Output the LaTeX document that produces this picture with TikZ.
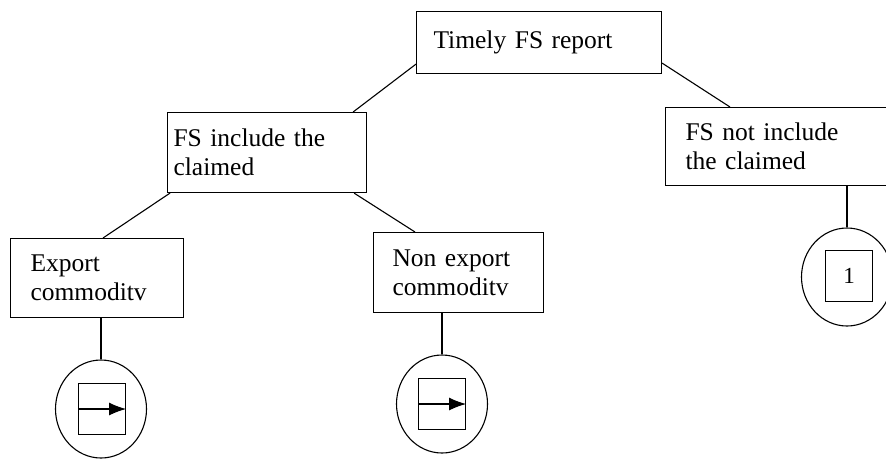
\documentclass[tikz,border=0pt]{standalone}
\usepackage{fontspec}
\setmainfont{Liberation Serif}
\usetikzlibrary{shapes.geometric,arrows.meta}

\begin{document}
\begin{tikzpicture}[x=1pt,y=-1pt,line width=1.1pt,
	box/.style={draw,rectangle,anchor=north west,inner xsep=18pt,inner ysep=0pt,align=left,font=\fontsize{25.5}{29}\selectfont},
	bubble/.style={draw,ellipse,minimum width=91pt,minimum height=98pt,inner sep=0pt},
	tag/.style={draw,rectangle,minimum width=47pt,minimum height=51pt,inner sep=0pt,font=\fontsize{23}{25}\selectfont}]
	\useasboundingbox (0,0) rectangle (886,459);

	% Nodes start here
	\node (root) at (416,11) [box,inner xsep=17pt,text width=211pt,minimum height=62pt] {Timely FS report};
	\node (incl) at (167,112) [box,inner xsep=6pt,text width=187pt,minimum height=80pt] {FS include the\\claimed};
	\node (notincl) at (665,107) [box,inner xsep=20pt,text width=220pt,minimum height=78pt] {FS not include\\the claimed};
	\node (export) at (10,238) [box,inner xsep=20pt,text width=133pt,minimum height=79pt] {Export\\commoditv};
	\node (nonexp) at (373,232) [box,inner xsep=19pt,text width=132pt,minimum height=80pt] {Non export\\commoditv};

	\node (exball) at (101,409) [bubble] {};
	\node (nonball) at (442,404) [bubble] {};
	\node (noball) at (847,277) [bubble] {};

	\node (extag) at (102,409) [tag] {};
	\node (nontag) at (442,404) [tag] {};
	\node (notag) at (849,276) [tag] {1};

	% Lines start here
	\draw[-] ([yshift=10pt]root.south west) to ([xshift=-14pt]incl.north east);
	\draw[-] ([yshift=11pt]root.south east) to ([xshift=65pt]notincl.north west);
	\draw[-] ([xshift=3pt]incl.south west) to ([xshift=93pt]export.north west);
	\draw[-] ([xshift=-13pt]incl.south east) to ([xshift=42pt]nonexp.north west);
	\draw[-] (exball.north |- export.south) to (exball.north);
	\draw[-] (nonball.north |- nonexp.south) to (nonball.north);
	\draw[-] (noball.north |- notincl.south) to (noball.north);

	\draw[-{Latex[length=17pt,width=13pt]}] (extag.west) to (extag.east);
	\draw[-{Latex[length=17pt,width=13pt]}] (nontag.west) to (nontag.east);

\end{tikzpicture}
\end{document}
